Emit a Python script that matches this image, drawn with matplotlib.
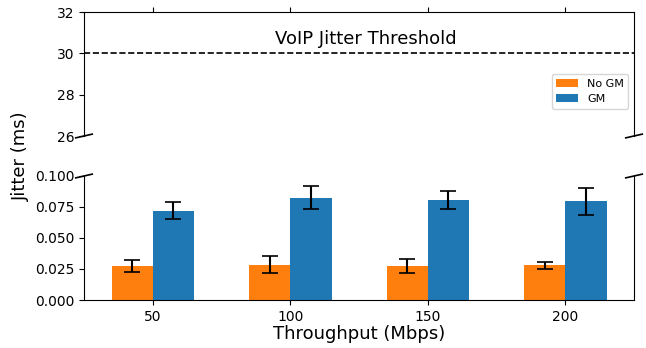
import matplotlib
matplotlib.use("Agg")
import matplotlib.pyplot as plt
import numpy as np

throughput = ["50", "100", "150", "200"]
no_gm = [0.0275, 0.0285, 0.0275, 0.028]
no_gm_err = [0.005, 0.0067, 0.0058, 0.003]
gm = [0.072, 0.0825, 0.0805, 0.0797]
gm_err = [0.007, 0.0095, 0.0075, 0.011]
threshold = 30

fig = plt.figure(figsize=(6.46, 3.48), dpi=100)
ax_top = fig.add_axes([84/646, 1-136/348, 550/646, 124/348])
ax_bot = fig.add_axes([84/646, 1-300/348, 550/646, 124/348], sharex=ax_top)

x = np.arange(len(throughput))
w = 0.3
for ax in (ax_top, ax_bot):
    ax.bar(x - w/2, no_gm, w, yerr=no_gm_err, color="#ff7f0e", label="No GM",
           error_kw=dict(capsize=6, elinewidth=1.5, capthick=1.2))
    ax.bar(x + w/2, gm, w, yerr=gm_err, color="#1f77b4", label="GM",
           error_kw=dict(capsize=6, elinewidth=1.5, capthick=1.2))

ax_top.axhline(threshold, color="black", linestyle="--", linewidth=1.2)
ax_top.text(1.55, 30.7, "VoIP Jitter Threshold", ha="center", va="center", fontsize=13)
ax_top.set_ylim(26, 32)
ax_top.set_yticks([26, 28, 30, 32])
ax_bot.set_ylim(0, 0.1)
ax_bot.set_yticks([0, 0.025, 0.05, 0.075, 0.1])
ax_bot.set_yticklabels(["0.000", "0.025", "0.050", "0.075", "0.100"])
ax_bot.set_xlim(-0.5, 3.5)
ax_bot.set_xticks(x)
ax_bot.set_xticklabels(throughput)

ax_top.spines["bottom"].set_visible(False)
ax_bot.spines["top"].set_visible(False)
ax_top.xaxis.tick_top()
ax_top.tick_params(labeltop=False)
ax_bot.xaxis.tick_bottom()

for ax in (ax_top, ax_bot):
    ax.tick_params(labelsize=10)

d = 0.015
kw = dict(transform=ax_top.transAxes, color="k", clip_on=False, linewidth=1.2)
ax_top.plot((-d, d), (-d, d), **kw)
ax_top.plot((1 - d, 1 + d), (-d, d), **kw)
kw.update(transform=ax_bot.transAxes)
ax_bot.plot((-d, d), (1 - d, 1 + d), **kw)
ax_bot.plot((1 - d, 1 + d), (1 - d, 1 + d), **kw)

ax_top.legend(loc="center right", bbox_to_anchor=(1.0, 0.36), fontsize=8)

ax_bot.set_xlabel("Throughput (Mbps)", fontsize=13, labelpad=1)
fig.text(0.033, 0.552, "Jitter (ms)", rotation=90, ha="center", va="center", fontsize=13)

fig.savefig("out.png", dpi=100)
